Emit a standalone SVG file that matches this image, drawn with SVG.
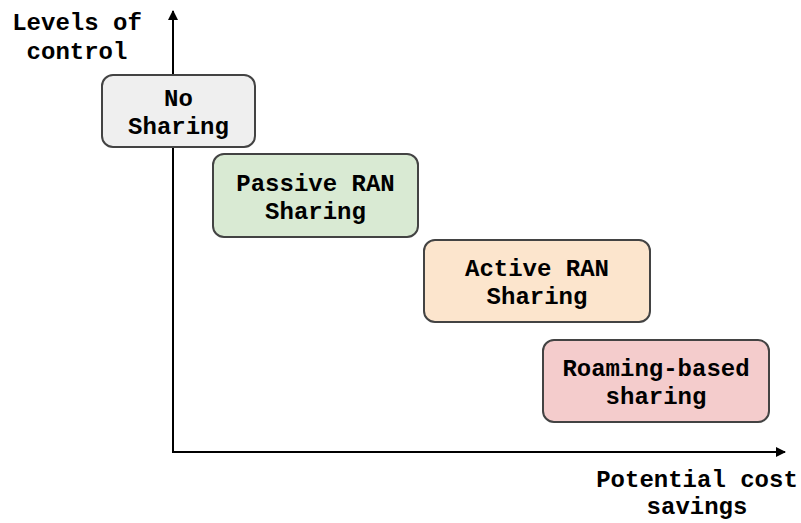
<svg xmlns="http://www.w3.org/2000/svg" width="801" height="523" viewBox="0 0 801 523">
  <style>
    .box { stroke: #434343; stroke-width: 2; }
    .lbl { font-family: "Liberation Mono", "Courier New", monospace; font-weight: bold; font-size: 24px; fill: #000; text-anchor: middle; }
    .axis { stroke: #000; stroke-width: 2; fill: none; }
  </style>
  <defs>
    <marker id="arrow" viewBox="0 0 10 10" refX="9" refY="5" markerWidth="10" markerHeight="10" markerUnits="userSpaceOnUse" orient="auto">
      <path d="M0,0 L10,5 L0,10 z" fill="#000"/>
    </marker>
  </defs>

  <!-- axes -->
  <g id="axes">
    <line class="axis" x1="173" y1="452" x2="173" y2="11" marker-end="url(#arrow)"/>
    <line class="axis" x1="172" y1="452" x2="785" y2="452" marker-end="url(#arrow)"/>
  </g>

  <!-- axis titles -->
  <g id="y-title">
    <text class="lbl" x="77" y="30">Levels of</text>
    <text class="lbl" x="77" y="59">control</text>
  </g>
  <g id="x-title">
    <text class="lbl" x="697" y="487">Potential cost</text>
    <text class="lbl" x="697" y="514">savings</text>
  </g>

  <!-- sharing models -->
  <g id="no-sharing">
    <rect class="box" x="102" y="75" width="153" height="72" rx="11" fill="#efefef"/>
    <text class="lbl" x="178.5" y="106">No</text>
    <text class="lbl" x="178.5" y="134">Sharing</text>
  </g>
  <g id="passive-ran">
    <rect class="box" x="213" y="154" width="205" height="83" rx="11" fill="#d9ead3"/>
    <text class="lbl" x="315.5" y="191">Passive RAN</text>
    <text class="lbl" x="315.5" y="219">Sharing</text>
  </g>
  <g id="active-ran">
    <rect class="box" x="424" y="240" width="226" height="82" rx="11" fill="#fce5cd"/>
    <text class="lbl" x="537" y="276">Active RAN</text>
    <text class="lbl" x="537" y="304">Sharing</text>
  </g>
  <g id="roaming">
    <rect class="box" x="543" y="340" width="226" height="82" rx="11" fill="#f4cccc"/>
    <text class="lbl" x="656" y="376">Roaming-based</text>
    <text class="lbl" x="656" y="404">sharing</text>
  </g>
</svg>
